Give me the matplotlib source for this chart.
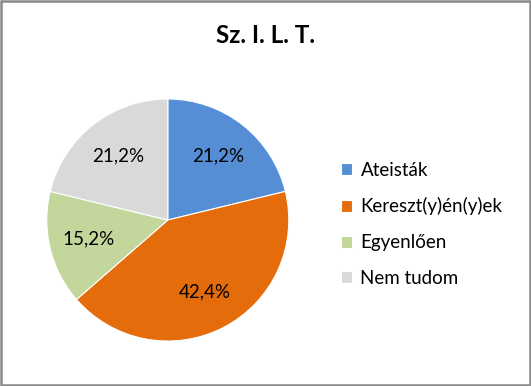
import matplotlib.pyplot as plt
from matplotlib.patches import Rectangle

plt.rcParams['font.family'] = ['Lato', 'DejaVu Sans']

title = 'Sz. I. L. T.'
categories = ['Ateisták', 'Kereszt(y)én(y)ek', 'Egyenlően', 'Nem tudom']
values = [21.2, 42.4, 15.2, 21.2]
colors = ['#558ED5', '#E46C0A', '#C3D69B', '#D9D9D9']

fig = plt.figure(figsize=(5.31, 3.86), dpi=100)
ax = fig.add_axes([0.088, 0.1165, 0.456, 0.627])

wedges, texts, autotexts = ax.pie(
    values, colors=colors, startangle=90, counterclock=False,
    autopct=lambda p: f'{p:.1f}%'.replace('.', ','), pctdistance=0.67,
    wedgeprops=dict(edgecolor='white', linewidth=0.8),
    textprops=dict(fontsize=13.5, color='#000000'))
ax.set_xlim(-1, 1)
ax.set_ylim(-1, 1)
ax.set_aspect('equal')

fig.text(0.5, 0.907, title, ha='center', va='center', fontsize=17.5, fontweight='bold')

fig.legend(wedges, categories, loc='upper left', bbox_to_anchor=(0.61, 0.625),
           frameon=False, fontsize=13.5, handlelength=0.6, handleheight=0.6,
           handletextpad=0.45, labelspacing=1.0)

fig.patches.append(Rectangle((0.002, 0.003), 0.996, 0.994, transform=fig.transFigure,
                             fill=False, edgecolor='#898989', linewidth=1.8))

fig.savefig('out.png', dpi=100)
